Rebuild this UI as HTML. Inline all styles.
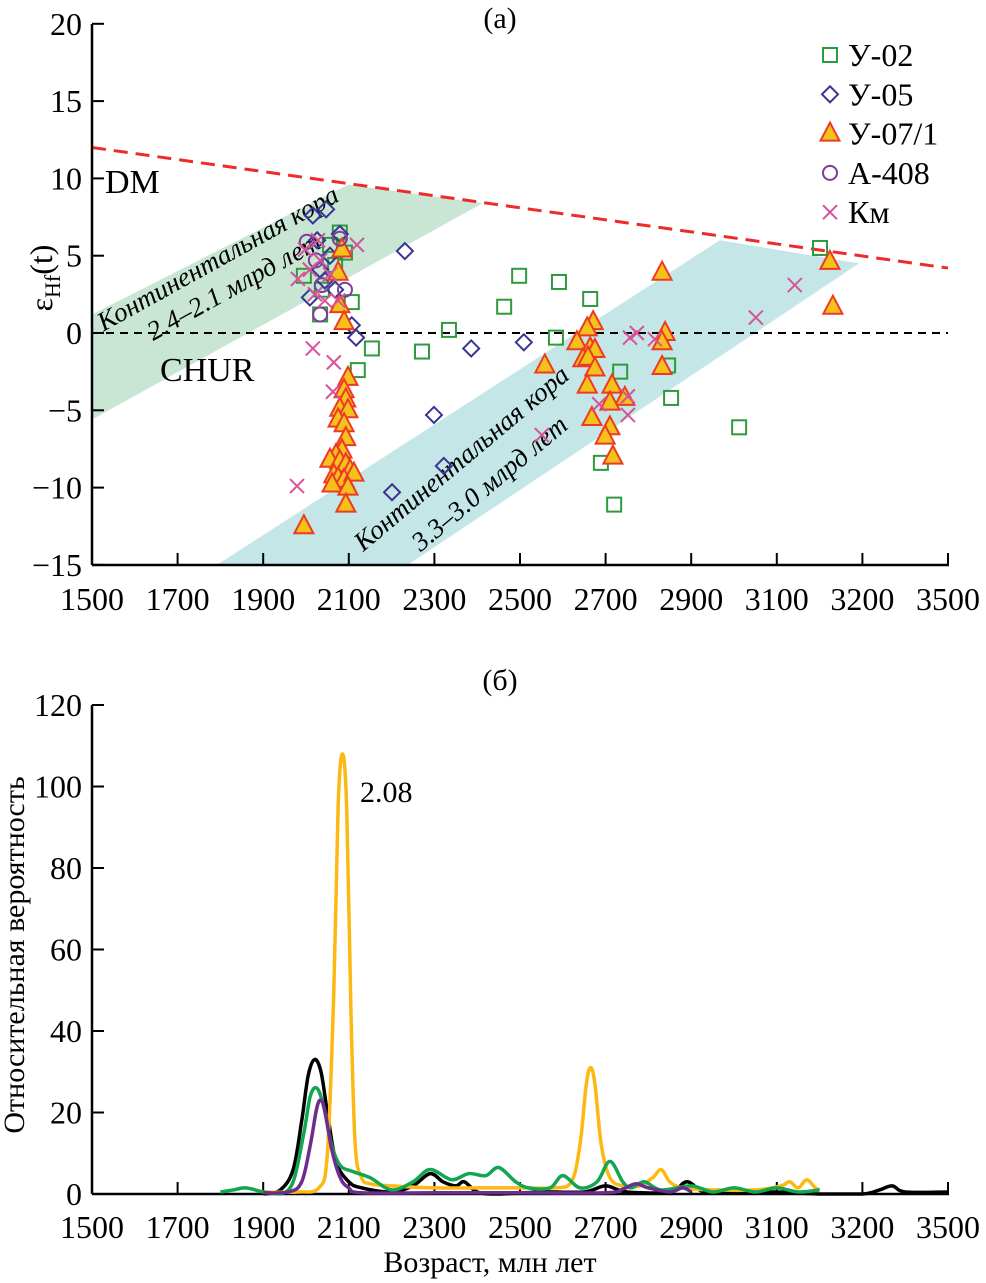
<!DOCTYPE html>
<html><head><meta charset="utf-8">
<style>
html,body{margin:0;padding:0;background:#fff;}
svg{display:block;font-family:"Liberation Serif","DejaVu Serif",serif;}
</style></head>
<body>
<svg id="chart" width="986" height="1283" viewBox="0 0 986 1283" xmlns="http://www.w3.org/2000/svg">
<g id="panelA"></g>
<g id="panelB"></g>
</svg>
<script>
// ---- Panel (a) data ----
const xTicks = [1500,1700,1900,2100,2300,2500,2700,2900,3100,3200,3500];
const xTickPos = [1500,1700,1900,2100,2300,2500,2700,2900,3100,3300,3500];
const yTicksA = [20,15,10,5,0,-5,-10,-15];
const u02Age = [1995,2107,2154,2121,2271,2334,2463,2498,2584,2591,2664,2734,2689,2720,2846,2853,3012,3201,2033,2056,2068,2079,2037,2091];
const u02Eps = [3.7,2.0,-1.0,-2.4,-1.2,0.2,1.7,3.7,-0.3,3.3,2.2,-2.5,-8.4,-11.1,-2.1,-4.2,-6.1,5.5,1.2,5.7,4.4,6.5,2.8,5.2];
const u05Age = [2016,2047,2079,2026,2056,2009,2044,2033,2107,2117,2231,2386,2509,2299,2322,2201,2068];
const u05Eps = [7.6,8.0,6.4,6.0,5.0,2.3,3.4,4.1,0.5,-0.3,5.3,-1.0,-0.6,-5.3,-8.6,-10.3,2.8];
const u07Age = [1995,2084,2075,2079,2089,2098,2089,2093,2079,2098,2075,2089,2093,2084,2070,2056,2079,2093,2103,2065,2075,2089,2112,2061,2098,2093,
  2832,2671,2657,2633,2664,2675,2647,2659,2675,2558,2839,2832,2832,2715,2657,2745,2710,2668,2710,2699,2717,3224,3231];
const u07Eps = [-12.5,5.4,3.9,1.8,0.7,-2.9,-3.7,-4.3,-4.9,-5.0,-5.6,-5.9,-6.8,-7.6,-7.9,-8.2,-8.3,-8.5,-8.9,-9.2,-9.4,-9.5,-9.1,-9.8,-10.0,-11.1,
  3.9,0.7,0.3,-0.6,-1.0,-1.1,-1.7,-1.6,-2.3,-2.1,0.0,-0.6,-2.2,-3.4,-3.4,-4.2,-4.5,-5.5,-6.1,-6.7,-8.0,4.6,1.7];
const a408Age = [2002,2079,2091,2033,2023,2037];
const a408Eps = [5.9,6.1,2.8,1.2,4.7,3.1];
const kmAge = [1981,2119,2016,2065,2063,1979,2551,2685,2752,2752,2757,2773,2815,3051,3142,2009,2033,2056,2021,2044,1998,2075,2028];
const kmEps = [3.5,5.7,-1.0,-1.9,-3.8,-9.9,-6.6,-4.6,-4.1,-5.3,-0.3,0.0,-0.4,1.0,3.1,4.1,4.7,3.8,2.5,2.1,5.4,2.1,6.0];
const dmAge = [1500,3500];
const dmEps = [12.0,4.2];
const bandGreenAge = [1500,2098,2413,1500];
const bandGreenEps = [1.2,9.6,8.4,-5.6];
const bandBlueAge = [2967,3292,2238,1792];
const bandBlueEps = [6.0,4.5,-15,-15];

// ---- Panel (b) data ----
const yTicksB = [0,20,40,60,80,100,120];
const orAge = [1900,1980,2030,2050,2065,2075,2085,2095,2105,2115,2130,2150,2200,2300,2400,2500,2580,2620,2640,2655,2665,2675,2690,2710,2740,2780,2810,2830,2850,2880,2950,3050,3110,3130,3150,3170,3190,3200];
const orVal = [0.5,0.5,1.5,10,50,95,108,95,45,12,4,2.5,2,1.5,1.5,1.5,1.5,3,12,27,31,27,12,4,2,2,4,6,3,1.5,1,1,2,3,1.5,3.5,1.5,1];
const bkAge = [1900,1940,1970,1990,2005,2020,2035,2050,2070,2100,2130,2200,2250,2290,2320,2350,2370,2400,2450,2550,2650,2700,2750,2850,2890,2930,3000,3100,3200,3300,3340,3370,3400,3500];
const bkVal = [0,1,6,18,29,33,30,20,8,3,1.5,0.5,2,5,3,2,3,0.5,0,0.5,0.5,2,0.5,0.5,3,0.5,0.5,0.5,0,0,1,2,0.5,0.5];
const grAge = [1800,1830,1860,1900,1940,1970,1995,2010,2025,2040,2060,2080,2110,2150,2200,2250,2290,2340,2380,2420,2450,2490,2520,2570,2600,2640,2680,2710,2740,2760,2790,2830,2900,2950,3000,3050,3100,3150,3200];
const grVal = [0.5,1,1.5,0.5,0,3,15,24,26,22,12,7,5.5,4,1,3,6,3.5,5,4.5,6.5,3,1.5,1.5,4.5,1.5,3,8,3,1.5,3,1,2,0.5,1.5,0.5,1.5,0.5,1];
const puAge = [1900,1960,1990,2010,2025,2035,2045,2060,2080,2100,2130,2300,2500,2700,2740,2770,2800,2850,2880,2900];
const puVal = [0.3,0.5,3,12,21,23,20,11,4,1.5,0.3,0.3,0.3,0.3,1.2,2.5,1.5,0.5,1.5,0.5];

const NS = "http://www.w3.org/2000/svg";
function mk(tag, attrs, parent){const e=document.createElementNS(NS,tag);for(const k in attrs)e.setAttribute(k,attrs[k]);parent.appendChild(e);return e;}
const X = a => 92 + (a-1500)*0.428;
const Y1 = e => 333 - e*15.46;
const Y2 = v => 1194 - v*4.075;
const gA = document.getElementById('panelA');
const gB = document.getElementById('panelB');

function txt(parent, x, y, s, size, anchor, extra){
  const t = mk('text', Object.assign({x:x,y:y,'font-size':size,'text-anchor':anchor||'start',fill:'#000'}, extra||{}), parent);
  t.textContent = s; return t;
}

// Bands
let p = mk('polygon',{points:bandGreenAge.map((a,i)=>X(a)+','+Y1(bandGreenEps[i])).join(' '),fill:'#c9e6d5'},gA);


p = mk('polygon',{points:bandBlueAge.map((a,i)=>X(a)+','+Y1(bandBlueEps[i])).join(' '),fill:'#c4e6e6'},gA);



// band labels
let bl = txt(gA,0,0,'Континентальная кора',27,'middle',{'font-style':'italic',transform:'translate(222,266) rotate(-29)'});


bl = txt(gA,0,0,'2.4–2.1 млрд лет',27,'middle',{'font-style':'italic',transform:'translate(238,294) rotate(-29)'});


bl = txt(gA,0,0,'Континентальная кора',27,'middle',{'font-style':'italic',transform:'translate(467,465) rotate(-40)'});


bl = txt(gA,0,0,'3.3–3.0 млрд лет',27,'middle',{'font-style':'italic',transform:'translate(495,490) rotate(-40)'});



// CHUR line and DM line
let l = mk('line',{x1:X(1500),y1:Y1(0),x2:X(3500),y2:Y1(0),stroke:'#000','stroke-width':2,'stroke-dasharray':'8,6'},gA);


l = mk('line',{x1:X(dmAge[0]),y1:Y1(dmEps[0]),x2:X(dmAge[1]),y2:Y1(dmEps[1]),stroke:'#ee2a2a','stroke-width':3,'stroke-dasharray':'14,8'},gA);


let t = txt(gA,105,193,'DM',34);  
t = txt(gA,160,381,'CHUR',34);  

// markers
function square(g,x,y){mk('rect',{x:x-7,y:y-7,width:14,height:14,fill:'none',stroke:'#2e9a3e','stroke-width':2},g);}
function diamond(g,x,y){mk('polygon',{points:`${x},${y-8} ${x+8},${y} ${x},${y+8} ${x-8},${y}`,fill:'none',stroke:'#3a3593','stroke-width':2},g);}
function tri(g,x,y){mk('polygon',{points:`${x},${y-11} ${x+9.5},${y+7} ${x-9.5},${y+7}`,fill:'#f5c21b',stroke:'#ee3a24','stroke-width':2},g);}
function circ(g,x,y){mk('circle',{cx:x,cy:y,r:7,fill:'none',stroke:'#7b3f98','stroke-width':2},g);}
function cross(g,x,y){mk('path',{d:`M${x-7},${y-7}L${x+7},${y+7}M${x+7},${y-7}L${x-7},${y+7}`,stroke:'#d6539a','stroke-width':2},g);}
const series = [
 ['series-u02',u02Age,u02Eps,square,'У-02'],
 ['series-u05',u05Age,u05Eps,diamond,'У-05'],
 ['series-u07-1',u07Age,u07Eps,tri,'У-07/1'],
 ['series-a408',a408Age,a408Eps,circ,'А-408'],
 ['series-km',kmAge,kmEps,cross,'Км']];
series.forEach((s,si)=>{
  const g = mk('g',{},gA);
  
  
  s[1].forEach((a,i)=>s[3](g,X(a),Y1(s[2][i])));
  const lg = mk('g',{},gA);
  
  
  const ly = 55 + si*39.3;
  s[3](lg,830,ly);
  txt(lg,848,ly+11,s[4],32);
});

// axes
function axes(parent, Yf, yt, yTop, yBot, xLabelY, name){
  const g = mk('g',{},parent);
  
  
  mk('line',{x1:92,y1:yTop,x2:92,y2:yBot,stroke:'#000','stroke-width':2.5},g);
  mk('line',{x1:92,y1:yBot,x2:949,y2:yBot,stroke:'#000','stroke-width':2.5},g);
  yt.forEach(v=>{const y=Yf(v);
    mk('line',{x1:92,y1:y,x2:104,y2:y,stroke:'#000','stroke-width':2},g);
    txt(g,82,y+11,v<0?'−'+(-v):String(v),32,'end');});
  xTickPos.forEach((a,i)=>{const x=X(a);
    mk('line',{x1:x,y1:yBot,x2:x,y2:yBot-12,stroke:'#000','stroke-width':2},g);
    txt(g,x,xLabelY,String(xTicks[i]),32,'middle');});
}
axes(gA,Y1,yTicksA,24,565,610,'axes-a');
t = txt(gA,0,0,'',32,'middle',{transform:'translate(52,278) rotate(-90)'});
t.innerHTML = 'ε<tspan font-size="22" dy="8">Hf</tspan><tspan dy="-8">(t)</tspan>';


t = txt(gA,500,28,'(а)',30,'middle');  

// Panel b
axes(gB,Y2,yTicksB,705,1194,1238,'axes-b');
function smooth(ages, vals){
  const pts = ages.map((a,i)=>[X(a),Y2(vals[i])]);
  let d = 'M'+pts[0][0]+','+pts[0][1];
  for(let i=0;i<pts.length-1;i++){
    const p0=pts[i-1]||pts[i], p1=pts[i], p2=pts[i+1], p3=pts[i+2]||p2;
    const c1=[p1[0]+(p2[0]-p0[0])/6, p1[1]+(p2[1]-p0[1])/6];
    const c2=[p2[0]-(p3[0]-p1[0])/6, p2[1]-(p3[1]-p1[1])/6];
    d += `C${c1[0]},${Math.min(1194,c1[1])} ${c2[0]},${Math.min(1194,c2[1])} ${p2[0]},${p2[1]}`;
  }
  return d;
}
const curves = [
 ['curve-black',bkAge,bkVal,'#000'],
 ['curve-orange',orAge,orVal,'#fdb913'],
 ['curve-green',grAge,grVal,'#12a650'],
 ['curve-purple',puAge,puVal,'#6e2c8e']];
curves.forEach(c=>{
  const pth = mk('path',{d:smooth(c[1],c[2]),fill:'none',stroke:c[3],'stroke-width':3.5,'stroke-linejoin':'round'},gB);
  
  
});
t = txt(gB,360,802,'2.08',30);  
t = txt(gB,500,690,'(б)',30,'middle');  
t = txt(gB,0,0,'Относительная вероятность',30,'middle',{transform:'translate(24,955) rotate(-90)'});
 
t = txt(gB,490,1272,'Возраст, млн лет',30,'middle');
 
</script>
</body></html>
